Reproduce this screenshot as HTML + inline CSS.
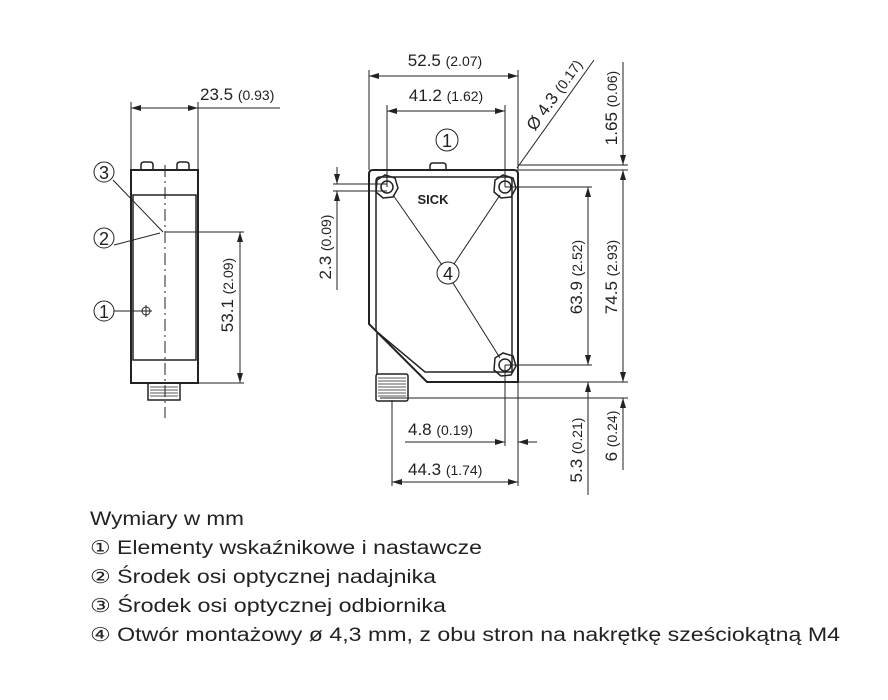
<!DOCTYPE html>
<html><head><meta charset="utf-8"><style>
html,body{margin:0;padding:0;background:#fff;}
svg{display:block;}
text{font-family:"Liberation Sans",sans-serif;fill:#222;}
.d{font-size:17px;}
.s{font-size:14px;}
</style></head><body>
<svg width="888" height="700" viewBox="0 0 888 700" xmlns="http://www.w3.org/2000/svg">
<defs>
<marker id="a" viewBox="0 0 10 6" refX="10" refY="3" markerWidth="10" markerHeight="6" orient="auto-start-reverse" markerUnits="userSpaceOnUse"><path d="M0,0L10,3L0,6z" fill="#222"/></marker>
</defs>
<g stroke="#222" fill="none" stroke-width="1">
<!-- SIDE VIEW -->
<rect x="131" y="170" width="67" height="213" stroke-width="2"/>
<rect x="133" y="195" width="63" height="165" stroke-width="1.5"/>
<path d="M141,170 v-5 q0,-3 3,-3 h6 q3,0 3,3 v5 M177,170 v-5 q0,-3 3,-3 h6 q3,0 3,3 v5" stroke-width="1.5"/>
<rect x="148" y="383" width="32" height="17" stroke-width="1.5"/>
<path d="M150,387h28M150,390h28M150,393h28M150,396h28" stroke-width="0.8"/>
<path d="M165,165V418" stroke-dasharray="12,4,2,4"/>
<path d="M131,102V170M198,102V170"/>
<path d="M131,108H198" marker-start="url(#a)" marker-end="url(#a)"/>
<path d="M198,108H280"/>
<path d="M165,232H244M198,383H244"/>
<path d="M240,232V383" marker-start="url(#a)" marker-end="url(#a)"/>
<circle cx="146" cy="311" r="4"/><path d="M140,311h12M146,305v12"/>
<path d="M113,180L163,232M114,245L160,233M114,311H142"/>
<!-- FRONT VIEW -->
<path d="M373,170H514q4,0 4,4V382H427L369,324V174q0,-4 4,-4z" stroke-width="2"/>
<path d="M380,177H508q4,0 4,4V372H425L376,331V181q0,-4 4,-4z" stroke-width="1.5"/>
<path d="M377,333V375" stroke-width="1.5"/>
<path d="M430,170v-4q0,-3 3,-3h10q3,0 3,3v4" stroke-width="1.5"/>
<rect x="376" y="374" width="32" height="27" rx="2" stroke-width="1.5"/>
<path d="M378,378h28M378,381h28M378,384h28M378,387h28M378,390h28M378,393h28M378,396h28" stroke-width="0.8"/>
<g stroke-width="1.5">
<polygon points="377,180 385,175 395,178 398,188 393,197 383,198 376,192"/>
<circle cx="387" cy="187" r="6"/>
<polygon points="495,180 503,175 513,178 516,188 511,197 501,198 494,192"/>
<circle cx="505" cy="187" r="6"/>
<polygon points="495,358 503,353 513,356 516,366 511,375 501,376 494,370"/>
<circle cx="505" cy="365" r="6"/>
</g>
<path d="M393,195L442,265M500,195L454,264M453,283L500,358"/>
<circle cx="448" cy="273" r="11"/>
<circle cx="447" cy="140" r="11"/>
<path d="M369,70V170M518,70V170M387,105V187M505,105V187"/>
<path d="M369,76H518" marker-start="url(#a)" marker-end="url(#a)"/>
<path d="M387,111H505" marker-start="url(#a)" marker-end="url(#a)"/>
<path d="M517,168L594,60"/>
<path d="M518,165H628M518,170H628M505,187H592M505,365H592M427,382H628M380,398H628"/>
<path d="M623,62V165" marker-end="url(#a)"/>
<path d="M623,170V382" marker-start="url(#a)" marker-end="url(#a)"/>
<path d="M588,187V365" marker-start="url(#a)" marker-end="url(#a)"/>
<path d="M588,495V382" marker-end="url(#a)"/>
<path d="M623,470V398" marker-end="url(#a)"/>
<path d="M333,184H387M333,191H387"/>
<path d="M337,167V184" marker-end="url(#a)"/>
<path d="M337,290V191" marker-end="url(#a)"/>
<path d="M392,400V486M518,382V486M505,365V446"/>
<path d="M405,442H505" marker-end="url(#a)"/>
<path d="M537,442H518" marker-end="url(#a)"/>
<path d="M392,482H518" marker-start="url(#a)" marker-end="url(#a)"/>
</g>
<circle cx="104" cy="172" r="10" fill="#fff" stroke="#222"/><text x="104" y="179" text-anchor="middle" font-size="18">3</text>
<circle cx="104" cy="238" r="10" fill="#fff" stroke="#222"/><text x="104" y="245" text-anchor="middle" font-size="18">2</text>
<circle cx="104" cy="311" r="10" fill="#fff" stroke="#222"/><text x="104" y="318" text-anchor="middle" font-size="18">1</text>
<text x="448" y="280" text-anchor="middle" font-size="18">4</text>
<text x="447" y="147" text-anchor="middle" font-size="18">1</text>
<text x="433" y="204" text-anchor="middle" font-size="13" font-weight="bold">SICK</text>
<text x="200" y="100" class="d">23.5 <tspan class="s">(0.93)</tspan></text>
<text transform="translate(233,295) rotate(-90)" text-anchor="middle" class="d">53.1 <tspan class="s">(2.09)</tspan></text>
<text x="445" y="66" text-anchor="middle" class="d">52.5 <tspan class="s">(2.07)</tspan></text>
<text x="446" y="101" text-anchor="middle" class="d">41.2 <tspan class="s">(1.62)</tspan></text>
<text transform="translate(559,98) rotate(-54.5)" text-anchor="middle" class="d">Ø 4.3 <tspan class="s">(0.17)</tspan></text>
<text transform="translate(617,108) rotate(-90)" text-anchor="middle" class="d">1.65 <tspan class="s">(0.06)</tspan></text>
<text transform="translate(582,277) rotate(-90)" text-anchor="middle" class="d">63.9 <tspan class="s">(2.52)</tspan></text>
<text transform="translate(617,277) rotate(-90)" text-anchor="middle" class="d">74.5 <tspan class="s">(2.93)</tspan></text>
<text transform="translate(331,247) rotate(-90)" text-anchor="middle" class="d">2.3 <tspan class="s">(0.09)</tspan></text>
<text transform="translate(582,450) rotate(-90)" text-anchor="middle" class="d">5.3 <tspan class="s">(0.21)</tspan></text>
<text transform="translate(617,436) rotate(-90)" text-anchor="middle" class="d">6 <tspan class="s">(0.24)</tspan></text>
<text x="408" y="435" class="d">4.8 <tspan class="s">(0.19)</tspan></text>
<text x="408" y="475" class="d">44.3 <tspan class="s">(1.74)</tspan></text>
<text x="90" y="525" font-size="19" textLength="154" lengthAdjust="spacingAndGlyphs">Wymiary w mm</text>
<text x="90" y="554" font-size="19" textLength="392" lengthAdjust="spacingAndGlyphs">① Elementy wskaźnikowe i nastawcze</text>
<text x="90" y="583" font-size="19" textLength="346" lengthAdjust="spacingAndGlyphs">② Środek osi optycznej nadajnika</text>
<text x="90" y="612" font-size="19" textLength="356" lengthAdjust="spacingAndGlyphs">③ Środek osi optycznej odbiornika</text>
<text x="90" y="641" font-size="19" textLength="750" lengthAdjust="spacingAndGlyphs">④ Otwór montażowy ø 4,3 mm, z obu stron na nakrętkę sześciokątną M4</text>
</svg>
</body></html>
